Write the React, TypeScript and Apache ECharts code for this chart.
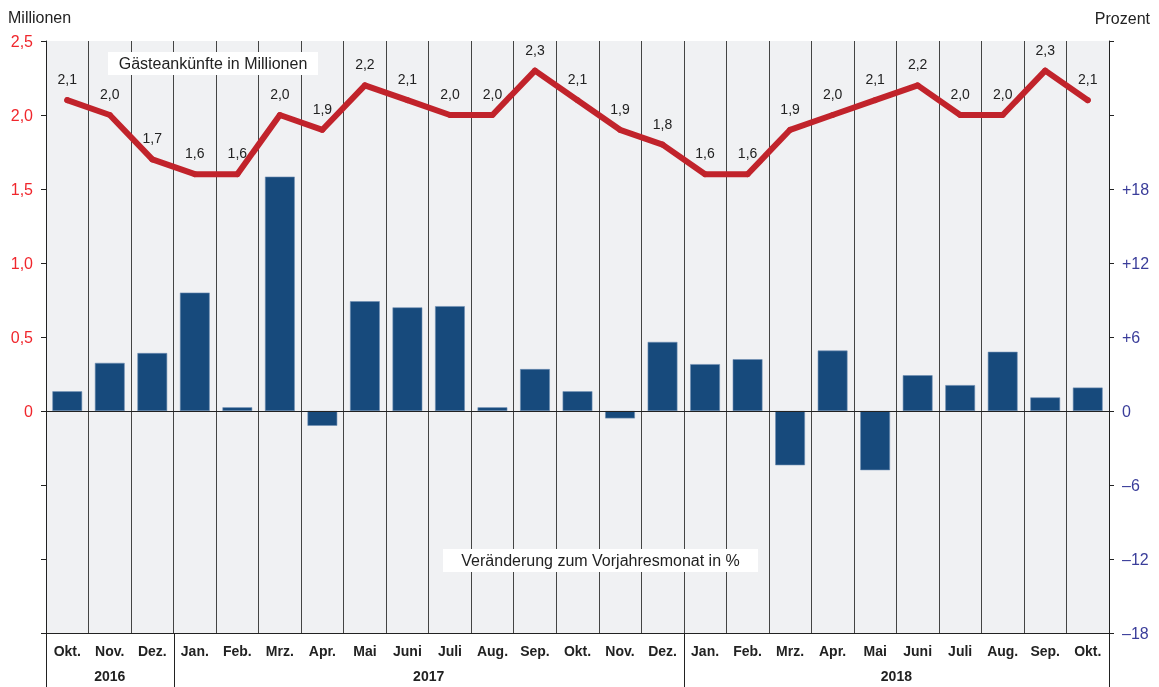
import React, { useEffect, useRef } from "react";
import * as echarts from "echarts";

const months = ["Okt.", "Nov.", "Dez.", "Jan.", "Feb.", "Mrz.", "Apr.", "Mai", "Juni", "Juli", "Aug.", "Sep.", "Okt.", "Nov.", "Dez.", "Jan.", "Feb.", "Mrz.", "Apr.", "Mai", "Juni", "Juli", "Aug.", "Sep.", "Okt."];
const arrivals = [2.1, 2.0, 1.7, 1.6, 1.6, 2.0, 1.9, 2.2, 2.1, 2.0, 2.0, 2.3, 2.1, 1.9, 1.8, 1.6, 1.6, 1.9, 2.0, 2.1, 2.2, 2.0, 2.0, 2.3, 2.1];
const changePct = [1.6, 3.9, 4.7, 9.6, 0.3, 19.0, -1.2, 8.9, 8.4, 8.5, 0.3, 3.4, 1.6, -0.6, 5.6, 3.8, 4.2, -4.4, 4.9, -4.8, 2.9, 2.1, 4.8, 1.1, 1.9];
const years = ["2016", "2017", "2018"];
const yearStart = [0, 3, 15];
const leftTicks = { min: -1.5, max: 2.5, interval: 0.5 };
const rightTicks = { min: -18, max: 30, interval: 6 };

const FONT = "'Liberation Sans', Arial, sans-serif";
const fmtDec = (v: number) => v.toFixed(1).replace(".", ",");

export default function App() {
  const ref = useRef<HTMLDivElement>(null);
  useEffect(() => {
    if (!ref.current) return;
    const chart = echarts.init(ref.current, null, { renderer: "svg" });
    const option: any = {
      animation: false,
      textStyle: { fontFamily: FONT },
      grid: { left: 46, right: 50, top: 41, bottom: 54, show: true, backgroundColor: "#f0f1f3", borderWidth: 0 },
      xAxis: {
        type: "category",
        data: months,
        boundaryGap: true,
        axisLine: { onZero: false, lineStyle: { color: "#222", width: 1 } },
        axisTick: { show: false },
        axisLabel: { interval: 0, fontFamily: FONT, fontWeight: "bold", fontSize: 14, color: "#222", margin: 11 },
        splitLine: { show: true, interval: 0, lineStyle: { color: "#444", width: 1 } },
      },
      yAxis: [
        {
          type: "value",
          position: "left",
          min: leftTicks.min,
          max: leftTicks.max,
          interval: leftTicks.interval,
          axisLine: { show: true, lineStyle: { color: "#222", width: 1 } },
          axisTick: { show: true, length: 5, lineStyle: { color: "#222" } },
          splitLine: { show: false },
          axisLabel: {
            fontFamily: FONT,
            fontSize: 16,
            color: "#f0262c",
            margin: 13,
            formatter: (v: number) => (v < 0 ? "" : v === 0 ? "0" : fmtDec(v)),
          },
        },
        {
          type: "value",
          position: "right",
          min: rightTicks.min,
          max: rightTicks.max,
          interval: rightTicks.interval,
          axisLine: { show: true, lineStyle: { color: "#222", width: 1 } },
          axisTick: { show: true, length: 5, lineStyle: { color: "#222" } },
          splitLine: { show: false },
          axisLabel: {
            fontFamily: FONT,
            fontSize: 16,
            color: "#3a3d9a",
            margin: 13,
            formatter: (v: number) => (v > 18 ? "" : v > 0 ? "+" + v : v < 0 ? "\u2013" + Math.abs(v) : "0"),
          },
        },
      ],
      series: [
        {
          type: "bar",
          yAxisIndex: 1,
          data: changePct,
          barCategoryGap: "30%",
          itemStyle: { color: "#174a7c", borderColor: "#6f8fb3", borderWidth: 0.6 },
          markLine: {
            silent: true,
            symbol: "none",
            label: { show: false },
            lineStyle: { color: "#222", width: 1, type: "solid" },
            data: [{ yAxis: 0 }],
          },
        },
        {
          type: "line",
          yAxisIndex: 0,
          data: arrivals,
          symbol: "circle",
          symbolSize: 6,
          itemStyle: { color: "#c1232b" },
          lineStyle: { color: "#c1232b", width: 6, cap: "round", join: "round" },
          z: 5,
          label: {
            show: true,
            position: "top",
            distance: 11,
            fontFamily: FONT,
            fontSize: 14,
            color: "#222",
            formatter: (p: any) => fmtDec(p.value),
          },
        },
      ],
    };
    chart.setOption(option);

    const c0 = chart.convertToPixel({ xAxisIndex: 0 }, 0) as number;
    const c1 = chart.convertToPixel({ xAxisIndex: 0 }, 1) as number;
    const step = c1 - c0;
    const axisY = 687 - 54;
    const bottomY = 687;
    const boundary = (i: number) => c0 + (i - 0.5) * step;
    const graphics: any[] = [];
    const sepIdx = [...yearStart, months.length];
    sepIdx.forEach((i) => {
      const x = Math.round(boundary(i)) + 0.5;
      graphics.push({ type: "line", shape: { x1: x, y1: axisY, x2: x, y2: bottomY }, style: { stroke: "#222", lineWidth: 1 }, silent: true });
    });
    years.forEach((y, k) => {
      const s = yearStart[k];
      const e = k + 1 < yearStart.length ? yearStart[k + 1] - 1 : months.length - 1;
      const cx = c0 + ((s + e) / 2) * step;
      graphics.push({
        type: "text",
        x: cx,
        y: 676,
        style: { text: y, font: `bold 14px ${FONT}`, fill: "#222", align: "center", verticalAlign: "middle" },
        silent: true,
      });
    });
    graphics.push(
      { type: "text", x: 8, y: 17, style: { text: "Millionen", font: `16px ${FONT}`, fill: "#222", align: "left", verticalAlign: "middle" } },
      { type: "text", x: 1150, y: 18, style: { text: "Prozent", font: `16px ${FONT}`, fill: "#222", align: "right", verticalAlign: "middle" } },
      { type: "rect", shape: { x: 108, y: 52, width: 210, height: 23 }, style: { fill: "#ffffff" }, z: 10 },
      { type: "text", x: 213, y: 63.5, z: 11, style: { text: "Gästeankünfte in Millionen", font: `16px ${FONT}`, fill: "#222", align: "center", verticalAlign: "middle" } },
      { type: "rect", shape: { x: 443, y: 549, width: 315, height: 23 }, style: { fill: "#ffffff" }, z: 10 },
      { type: "text", x: 600.5, y: 560.5, z: 11, style: { text: "Veränderung zum Vorjahresmonat in %", font: `16px ${FONT}`, fill: "#222", align: "center", verticalAlign: "middle" } }
    );
    chart.setOption({ graphic: graphics });

    return () => chart.dispose();
  }, []);
  return <div ref={ref} style={{ position: "fixed", left: 0, top: 0, width: 1159, height: 687 }} />;
}
